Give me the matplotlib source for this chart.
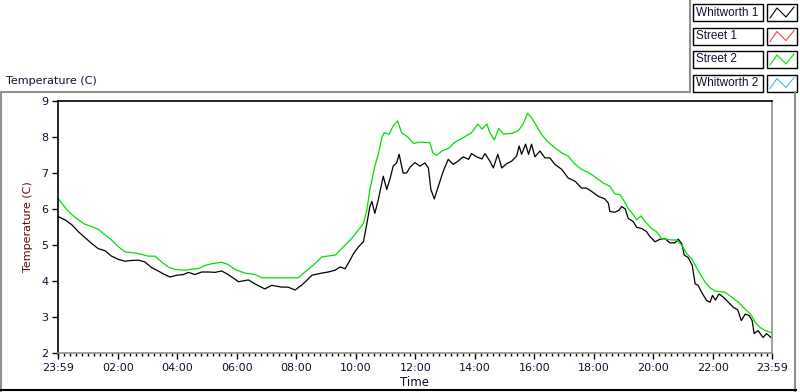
import matplotlib
matplotlib.use("Agg")
import matplotlib.pyplot as plt
from matplotlib.lines import Line2D
from matplotlib.patches import Rectangle
import numpy as np

plt.rcParams['font.family'] = ['DejaVu Sans']

# minutes after 23:59 (start of record)
w1_t = [0, 14, 28, 41, 54, 68, 81, 95, 108, 122, 135, 149, 162, 175, 189, 202, 212, 226, 239, 253,
        263, 276, 290, 303, 317, 330, 343, 357, 364, 384, 397, 417, 431, 451, 464, 478, 491, 502, 512,
        532, 545, 559, 569, 579, 589, 596, 606, 616, 623, 629, 633, 639, 646, 656, 663, 670, 676, 683,
        688, 696, 703, 710, 720, 730, 740, 747, 752, 759, 767, 777, 787, 797, 807, 817, 828, 834, 844,
        855, 861, 871, 878, 887, 895, 905, 915, 925, 930, 935, 943, 949, 955, 962, 972, 982, 992, 1002,
        1016, 1029, 1043, 1056, 1066, 1076, 1090, 1103, 1110, 1113, 1123, 1131, 1137, 1144, 1150, 1160,
        1167, 1177, 1187, 1194, 1204, 1214, 1224, 1234, 1244, 1251, 1258, 1263, 1271, 1279, 1285, 1291,
        1298, 1308, 1315, 1320, 1326, 1333, 1342, 1352, 1362, 1371, 1378, 1386, 1394, 1400, 1404, 1412,
        1422, 1429, 1438]
w1_v = [5.79, 5.70, 5.56, 5.37, 5.21, 5.04, 4.90, 4.84, 4.69, 4.60, 4.55, 4.57, 4.58, 4.53, 4.37, 4.28,
        4.20, 4.11, 4.16, 4.18, 4.24, 4.18, 4.25, 4.25, 4.24, 4.28, 4.18, 4.05, 3.98, 4.03, 3.92, 3.78,
        3.88, 3.83, 3.83, 3.75, 3.88, 4.02, 4.16, 4.22, 4.25, 4.30, 4.39, 4.34, 4.58, 4.76, 4.95, 5.09,
        5.60, 6.07, 6.21, 5.88, 6.26, 6.91, 6.54, 6.86, 7.19, 7.28, 7.52, 7.00, 7.00, 7.16, 7.29, 7.19,
        7.28, 7.14, 6.54, 6.28, 6.63, 7.05, 7.38, 7.24, 7.33, 7.45, 7.38, 7.54, 7.45, 7.39, 7.54, 7.33,
        7.14, 7.52, 7.14, 7.26, 7.33, 7.47, 7.75, 7.52, 7.80, 7.52, 7.80, 7.45, 7.61, 7.42, 7.42, 7.24,
        7.10, 6.86, 6.77, 6.58, 6.58, 6.49, 6.35, 6.28, 6.16, 5.93, 5.91, 5.96, 6.07, 6.00, 5.74, 5.65,
        5.49, 5.46, 5.37, 5.23, 5.09, 5.16, 5.18, 5.06, 5.06, 5.16, 5.04, 4.72, 4.65, 4.44, 3.92, 3.88,
        3.69, 3.46, 3.41, 3.60, 3.47, 3.64, 3.55, 3.41, 3.27, 3.20, 2.90, 3.08, 3.04, 2.90, 2.54, 2.62,
        2.43, 2.54, 2.43]

s2_t = [0, 8, 18, 28, 41, 54, 68, 81, 95, 108, 122, 135, 155, 169, 182, 196, 209, 222, 236, 256, 270,
        283, 296, 310, 330, 343, 357, 377, 397, 411, 464, 485, 498, 518, 532, 559, 572, 592, 606, 616,
        623, 629, 639, 646, 653, 658, 668, 676, 685, 693, 707, 717, 729, 750, 756, 764, 774, 787, 801,
        817, 834, 847, 855, 865, 871, 880, 889, 898, 915, 928, 938, 947, 955, 965, 975, 986, 1002, 1016,
        1029, 1043, 1056, 1069, 1083, 1100, 1113, 1123, 1133, 1140, 1150, 1160, 1167, 1176, 1184, 1197,
        1207, 1217, 1237, 1247, 1258, 1268, 1278, 1285, 1295, 1305, 1315, 1325, 1345, 1359, 1372, 1386,
        1399, 1406, 1416, 1427, 1438]
s2_v = [6.30, 6.16, 5.98, 5.84, 5.70, 5.58, 5.51, 5.44, 5.28, 5.14, 4.95, 4.81, 4.78, 4.74, 4.69, 4.69,
        4.53, 4.39, 4.32, 4.30, 4.33, 4.34, 4.43, 4.48, 4.52, 4.46, 4.32, 4.22, 4.18, 4.09, 4.09, 4.09,
        4.25, 4.48, 4.67, 4.72, 4.90, 5.18, 5.42, 5.60, 5.98, 6.54, 7.19, 7.52, 7.98, 8.12, 8.08, 8.31,
        8.45, 8.12, 7.98, 7.82, 7.86, 7.84, 7.56, 7.49, 7.61, 7.68, 7.86, 7.98, 8.12, 8.36, 8.22, 8.36,
        8.12, 7.92, 8.24, 8.08, 8.10, 8.17, 8.36, 8.66, 8.54, 8.31, 8.08, 7.89, 7.70, 7.56, 7.47, 7.24,
        7.10, 7.02, 6.89, 6.72, 6.63, 6.42, 6.40, 6.26, 6.02, 5.84, 5.70, 5.81, 5.65, 5.46, 5.37, 5.18,
        5.14, 5.14, 5.00, 4.76, 4.62, 4.44, 4.20, 3.97, 3.81, 3.72, 3.69, 3.55, 3.41, 3.22, 3.04, 2.85,
        2.71, 2.62, 2.57]

x_tick_pos = [0, 121, 241, 361, 481, 601, 721, 841, 961, 1081, 1201, 1321, 1440]
x_tick_labels = ["23:59", "02:00", "04:00", "06:00", "08:00", "10:00", "12:00",
                 "14:00", "16:00", "18:00", "20:00", "22:00", "23:59"]
y_ticks = [2, 3, 4, 5, 6, 7, 8, 9]
legend_names = ["Whitworth 1", "Street 1", "Street 2", "Whitworth 2"]
legend_colors = ["#000000", "#ff4040", "#00e000", "#40b8ff"]

W, H = 800, 392
fig = plt.figure(figsize=(W / 100, H / 100), dpi=100)
fig.patch.set_facecolor("white")


def fx(px):
    return px / W


def fy(py):
    return 1 - py / H


ax = fig.add_axes([fx(58), fy(353), fx(772) - fx(58), fy(101) - fy(353)])
ax.plot(w1_t, w1_v, color=legend_colors[0], lw=0.9)
ax.plot(s2_t, s2_v, color=legend_colors[2], lw=0.9)
ax.set_xlim(0, 1440)
ax.set_ylim(2, 9)
ax.set_yticks(y_ticks)
ax.set_yticklabels([str(v) for v in y_ticks])
ax.set_xticks(x_tick_pos)
ax.set_xticklabels(x_tick_labels)
ax.set_xticks(np.arange(1, 1440, 12), minor=True)
ax.tick_params(axis="both", which="major", labelsize=8, colors="#000000", length=4, width=1, pad=3)
ax.tick_params(axis="x", which="minor", length=2.5, width=1, colors="#000000")
ax.tick_params(axis="y", which="minor", left=False)
for lab in ax.get_xticklabels() + ax.get_yticklabels():
    lab.set_color("#101030")
ax.spines["left"].set_color("black")
ax.spines["top"].set_color("black")
ax.spines["right"].set_color("#909090")
ax.spines["bottom"].set_color("#909090")
for s in ax.spines.values():
    s.set_linewidth(1.2)
ax.set_xlabel("Time", fontsize=8.5, labelpad=2, color="#101030")
ax.set_ylabel("Temperature (C)", fontsize=8, color="#5a0a0a", labelpad=6)

# panel frame
gray = "#909090"
fig.add_artist(Line2D([fx(0), fx(690)], [fy(92), fy(92)], color=gray, lw=1.5))
fig.add_artist(Line2D([fx(690), fx(690)], [fy(0), fy(92)], color=gray, lw=1.5))
fig.add_artist(Line2D([fx(1), fx(1)], [fy(92), fy(391)], color=gray, lw=1.5))
fig.add_artist(Line2D([fx(795), fx(795)], [fy(92), fy(391)], color=gray, lw=1.5))
fig.add_artist(Line2D([fx(0), fx(796)], [fy(390), fy(390)], color="black", lw=1.5))
fig.text(fx(6), fy(81), "Temperature (C)", fontsize=8, color="#101030", va="center", ha="left")

# legend
for i, (name, col) in enumerate(zip(legend_names, legend_colors)):
    top = 4 + i * 23.5
    h = 17
    fig.add_artist(Rectangle((fx(693), fy(top + h)), fx(763) - fx(693), fy(top) - fy(top + h),
                             transform=fig.transFigure, fill=False, edgecolor="black", lw=1))
    fig.text(fx(696), fy(top + h / 2), name, fontsize=8.5, family="Liberation Sans",
             color="#101030", va="center", ha="left")
    fig.add_artist(Rectangle((fx(767), fy(top + h)), fx(797) - fx(767), fy(top) - fy(top + h),
                             transform=fig.transFigure, fill=False, edgecolor="black", lw=1))
    xs = [770, 777, 786, 794]
    ys = [top + 14, top + 4, top + 13, top + 3]
    fig.add_artist(Line2D([fx(v) for v in xs], [fy(v) for v in ys], color=col, lw=0.8))

fig.savefig("out.png", dpi=100)
